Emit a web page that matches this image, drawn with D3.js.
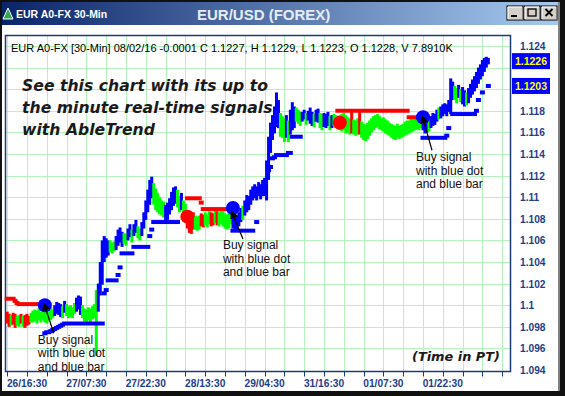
<!DOCTYPE html>
<html><head><meta charset="utf-8">
<script src="https://cdn.jsdelivr.net/npm/d3@7"></script>
<style>body{margin:0;background:#fff;overflow:hidden}svg{display:block}</style>
</head><body><svg id="c" width="565" height="396"></svg>
<script>
// ---------------- DATA ----------------
const xTickLabels = ["26/16:30","27/07:30","27/22:30","28/13:30","29/04:30","31/16:30","01/07:30","01/22:30"];
const xLabelBars  = [10,40,70,100,130,160,190,220];
const yTicks      = [1.124,1.122,1.12,1.118,1.116,1.114,1.112,1.11,1.108,1.106,1.104,1.102,1.1,1.098,1.096,1.094];
const yTickLabels = ["1.124","1.122","1.12","1.118","1.116","1.114","1.112","1.11","1.108","1.106","1.104","1.102","1.1","1.098","1.096","1.094"];
const priceMarkers = [1.1226, 1.1203];

const barHigh = [
1.0994,1.0992,1.0991,1.0993,1.0992,1.0990,1.0991,1.0992,1.0990,1.0991,1.0992,1.0990,1.0993,1.0995,1.0996,1.0995,1.0997,1.0994,1.0996,
1.0997,1.0996,1.0998,1.0998,1.0996,1.1000,1.1003,1.1002,1.1001,1.0999,1.1004,1.1001,1.0999,1.1000,1.0998,1.1002,1.1007,1.1009,1.1008,1.1000,1.0997,1.0996,1.0998,1.0997,1.0999,1.1001,1.1014,
1.1020,1.1040,1.1060,1.1064,1.1062,1.1060,1.1060,1.1058,1.1059,1.1064,
1.1070,1.1072,1.1068,1.1067,1.1066,1.1071,1.1075,1.1070,1.1075,1.1079,
1.1073,1.1071,1.1077,1.1086,1.1097,1.1107,1.1116,1.1119,1.1113,1.1108,
1.1104,1.1100,1.1097,1.1096,1.1093,1.1095,1.1099,1.1105,1.1109,1.1110,
1.1107,1.1101,1.1104,1.1097,1.1094,
1.1088,1.1086,1.1084,1.1086,1.1083,1.1082,1.1083,1.1085,1.1084,1.1086,1.1084,1.1087,1.1086,1.1085,1.1088,1.1087,1.1086,1.1089,1.1087,1.1085,1.1084,1.1086,1.1088,
1.1086,1.1084,1.1083,1.1086,1.1090,1.1092,1.1097,1.1102,1.1101,1.1107,
1.1110,1.1112,1.1110,1.1114,1.1112,1.1116,1.1118,1.1134,1.1156,1.1169,
1.1176,1.1184,1.1197,1.1190,1.1178,1.1175,1.1173,1.1176,1.1171,1.1181,
1.1188,1.1184,1.1183,1.1181,1.1179,1.1179,1.1181,1.1178,1.1180,1.1183,
1.1179,1.1177,1.1181,1.1182,1.1178,1.1177,1.1178,1.1177,1.1179,1.1175,
1.1176,1.1177,1.1176,
1.1175,1.1176,1.1177,1.1178,1.1176,1.1174,1.1173,1.1179,1.1172,1.1171,
1.1173,1.1179,1.1170,1.1168,1.1167,1.1169,1.1171,1.1173,1.1175,1.1176,
1.1177,1.1175,1.1173,1.1174,1.1172,1.1171,1.1169,1.1168,1.1167,1.1166,
1.1168,1.1166,1.1167,1.1168,1.1170,1.1171,1.1171,1.1173,1.1172,1.1174,
1.1175,1.1173,1.1174,
1.1173,1.1170,1.1171,1.1173,1.1175,1.1178,1.1177,1.1181,1.1183,1.1184,
1.1186,1.1187,1.1186,1.1190,1.1210,1.1207,1.1203,1.1201,1.1204,1.1200,
1.1202,1.1199,1.1197,1.1201,1.1205,1.1209,1.1212,1.1216,1.1220,1.1223,
1.1227,1.1229,1.1230,1.1229];

const barLow = [
1.0983,1.0980,1.0981,1.0982,1.0979,1.0981,1.0980,1.0983,1.0980,1.0979,1.0981,1.0982,1.0984,1.0984,1.0985,1.0983,1.0986,1.0984,1.0986,
1.0984,1.0983,1.0985,1.0986,1.0988,1.0990,1.0992,1.0991,1.0989,1.0988,1.0993,1.0990,1.0988,1.0989,1.0988,1.0992,1.0994,1.0996,1.0991,1.0988,1.0985,1.0983,1.0986,1.0984,1.0987,1.0988,1.0953,
1.0994,1.1009,1.1019,1.1040,1.1044,1.1046,1.1049,1.1048,1.1050,1.1051,
1.1055,1.1058,1.1054,1.1057,1.1055,1.1060,1.1063,1.1058,1.1064,1.1067,
1.1062,1.1060,1.1064,1.1071,1.1079,1.1086,1.1093,1.1099,1.1093,1.1088,
1.1086,1.1084,1.1083,1.1081,1.1077,1.1079,1.1084,1.1088,1.1092,1.1094,
1.1091,1.1086,1.1088,1.1084,1.1082,
1.1071,1.1067,1.1066,1.1070,1.1070,1.1069,1.1070,1.1073,1.1072,1.1074,1.1072,1.1075,1.1073,1.1074,1.1076,1.1074,1.1073,1.1075,1.1073,1.1071,1.1070,1.1071,1.1075,
1.1071,1.1070,1.1068,1.1073,1.1077,1.1079,1.1083,1.1086,1.1088,1.1093,
1.1097,1.1099,1.1097,1.1101,1.1098,1.1101,1.1101,1.1097,1.1116,1.1141,
1.1153,1.1159,1.1165,1.1164,1.1156,1.1155,1.1151,1.1155,1.1151,1.1158,
1.1162,1.1164,1.1170,1.1168,1.1166,1.1170,1.1172,1.1167,1.1171,1.1168,
1.1166,1.1165,1.1170,1.1169,1.1164,1.1162,1.1165,1.1164,1.1166,1.1162,
1.1164,1.1166,1.1164,
1.1164,1.1162,1.1161,1.1162,1.1159,1.1160,1.1158,1.1159,1.1158,1.1157,
1.1158,1.1158,1.1155,1.1153,1.1152,1.1154,1.1157,1.1160,1.1162,1.1164,
1.1165,1.1163,1.1162,1.1161,1.1159,1.1158,1.1157,1.1155,1.1154,1.1153,
1.1155,1.1154,1.1155,1.1156,1.1157,1.1158,1.1159,1.1160,1.1161,1.1162,
1.1163,1.1162,1.1164,
1.1162,1.1159,1.1160,1.1161,1.1164,1.1166,1.1167,1.1170,1.1172,1.1173,
1.1175,1.1177,1.1175,1.1179,1.1177,1.1190,1.1190,1.1187,1.1192,1.1188,
1.1186,1.1184,1.1185,1.1187,1.1192,1.1195,1.1198,1.1201,1.1205,1.1209,
1.1212,1.1216,1.1220,1.1223];

// trend state per bar: r = down (red), g = neutral (green), b = up (blue)
const barTrend = ("rrgrrggrgrrrggggggg" + "gggggbbbbgbgggggbbbgggggggg" +
  "bbbbbbgggbbbbggbbgbbggbbbbbbggggggbbbbbbggbgg" + "rrrrgggrrgggrrgrggggggg" +
  "bbbbbgbbbbbbbbbbbbbbbbbbgggbgbbbgggbbgbbbgbbggbbbgbgg" +
  "gggggggrgggrggggggggggggggggggggggggggggggg" + "bbbgbbbbgbbbbbbbggbgbbgbbbbbbbbbbb").split("");

// stop levels held over bar ranges: [firstBar, lastBar, level]
const supportStops = [
 [19,19,1.0974],[20,21,1.0975],[22,22,1.0976],[23,23,1.0977],[24,24,1.0978],[25,25,1.0979],
 [26,26,1.0980],[27,27,1.0981],[28,28,1.0982],[29,48,1.0983],
 [49,49,1.1011],[50,50,1.1014],[51,55,1.1023],[56,56,1.1028],[57,57,1.1035],[58,63,1.1048],
 [64,71,1.1054],[72,72,1.1064],[73,73,1.1070],[74,86,1.1077],
 [114,124,1.1069],[126,126,1.1077],
 [132,132,1.1125],[133,133,1.1128],[134,134,1.1136],[135,135,1.1137],[136,141,1.1139],
 [142,143,1.1141],[144,148,1.1156],
 [210,221,1.1155],[222,222,1.1157],[223,223,1.1164],[225,236,1.1177],[237,237,1.1180],
 [238,238,1.1190],[240,240,1.1197],[243,243,1.1203]];
const resistStops = [
 [0,3,1.1006],[4,4,1.1004],[5,5,1.1002],[6,18,1.1001],
 [91,97,1.1099],[98,98,1.1095],[99,112,1.1089],
 [167,202,1.1180],[203,209,1.1174]];

// signals: bar, price, type
const signalBars   = [19, 91, 114, 168, 210];
const signalPrices = [1.1000, 1.1082, 1.1090, 1.1169, 1.1174];
const signalTypes  = ["buy","sell","buy","sell","buy"];

const headerText = "EUR A0-FX [30-Min] 08/02/16  -0.0001 C 1.1227, H 1.1229, L 1.1223, O 1.1228, V 7.8910K";
const promoLines = ["See this chart with its up to","the minute real-time signals","with AbleTrend"];
const noteLines  = ["Buy signal","with blue dot","and blue bar"];

// ---------------- DRAW ----------------
const svg = d3.select("#c");
const W = 565, H = 396;
const box = {l:5.5, t:35.5, r:510.5, b:371.5};
const x = d3.scaleLinear().domain([0,250]).range([7.2, 502.2]);
const y = d3.scaleLinear().domain([1.094,1.124]).range([370,46]);
const trendColor = {r:"#ff0000", g:"#00ff00", b:"#0000ff"};

// window frame
svg.append("rect").attr("width",W).attr("height",H).attr("fill","#111");
svg.append("rect").attr("x",2).attr("y",2).attr("width",556).attr("height",389).attr("fill","#fff");
svg.append("rect").attr("x",558).attr("y",2).attr("width",2).attr("height",389).attr("fill","#808080");

// title bar
const defs = svg.append("defs");
const gr = defs.append("linearGradient").attr("id","tb");
gr.append("stop").attr("offset","0%").attr("stop-color","#0a246a");
gr.append("stop").attr("offset","100%").attr("stop-color","#a6caf0");
svg.append("rect").attr("x",2).attr("y",2).attr("width",556).attr("height",23).attr("fill","url(#tb)");
svg.append("path").attr("d","M3,19 L8,8 L13,19 Z").attr("fill","#2fa84f").attr("stroke","#fff").attr("stroke-width",1);
svg.append("text").attr("x",16).attr("y",18).text("EUR A0-FX 30-Min")
  .attr("font-family","Liberation Sans, Arial").attr("font-weight","bold").attr("font-size",10.5).attr("fill","#fff");
svg.append("text").attr("x",197).attr("y",20).text("EUR/USD (FOREX)")
  .attr("font-family","Liberation Sans, Arial").attr("font-weight","bold").attr("font-size",15).attr("fill","#e6ecf6");
const btnX = [507, 524, 541];
btnX.forEach((bx,k)=>{
  const g = svg.append("g");
  g.append("rect").attr("x",bx).attr("y",6).attr("width",16).attr("height",14).attr("fill","#d4d0c8").attr("stroke","#000").attr("stroke-width",1);
  g.append("path").attr("d",`M${bx+1},${19} V${7} H${bx+15}`).attr("fill","none").attr("stroke","#fff");
  g.append("path").attr("d",`M${bx+1.5},${19.5} H${bx+15.5} V${7}`).attr("fill","none").attr("stroke","#808080");
  if(k===0) g.append("rect").attr("x",bx+4).attr("y",15).attr("width",6).attr("height",2).attr("fill","#000");
  if(k===1) g.append("rect").attr("x",bx+4).attr("y",9).attr("width",8).attr("height",7).attr("fill","none").attr("stroke","#000").attr("stroke-width",1.3);
  if(k===2) g.append("path").attr("d",`M${bx+4.5},9 L${bx+11.5},16 M${bx+11.5},9 L${bx+4.5},16`).attr("stroke","#000").attr("stroke-width",1.8);
});

// grid
const grid = svg.append("g").attr("stroke","#b6f2bc").attr("stroke-width",1);
yTicks.filter(v=>v>1.0945).forEach(v=>{
  grid.append("line").attr("x1",box.l).attr("x2",box.r).attr("y1",Math.round(y(v))+0.5).attr("y2",Math.round(y(v))+0.5);
});
const xTickBars = d3.range(0,251,10);
xTickBars.forEach(b=>{
  grid.append("line").attr("x1",Math.round(x(b))+0.5).attr("x2",Math.round(x(b))+0.5).attr("y1",box.t).attr("y2",box.b);
});

svg.append("rect").attr("x",box.l).attr("y",box.t).attr("width",box.r-box.l).attr("height",box.b-box.t)
  .attr("fill","none").attr("stroke","#1b3a7c").attr("stroke-width",1.5);

const tk = svg.append("g").attr("stroke","#1b3a7c").attr("stroke-width",1);
xTickBars.forEach(b=>{
  tk.append("line").attr("x1",Math.round(x(b))+0.5).attr("x2",Math.round(x(b))+0.5).attr("y1",box.b).attr("y2",box.b+5);
});
svg.append("g").selectAll("text").data(xTickLabels).join("text")
  .attr("x",(d,i)=>x(xLabelBars[i])).attr("y",387).attr("text-anchor","middle")
  .attr("font-family","Liberation Sans, Arial").attr("font-weight","bold").attr("font-size",10.2).attr("fill","#1e3d8c")
  .text(d=>d);

// y labels (those hidden behind the price markers are not drawn)
const visibleY = yTicks.map((v,i)=>({v, label:yTickLabels[i]}))
  .filter(t=>priceMarkers.every(m=>Math.abs(y(m)-y(t.v))>12));
svg.append("g").selectAll("text").data(visibleY).join("text")
  .attr("x",520).attr("y",d=>y(d.v)+4).attr("font-family","Liberation Sans, Arial").attr("font-weight","bold")
  .attr("font-size",10.2).attr("fill","#1e3d8c").text(d=>d.label);
priceMarkers.forEach(v=>{
  svg.append("rect").attr("x",512).attr("y",y(v)-8).attr("width",38).attr("height",16).attr("fill","#0000ff");
  svg.append("text").attr("x",531).attr("y",y(v)+4).attr("text-anchor","middle")
    .attr("font-family","Liberation Sans, Arial").attr("font-weight","bold").attr("font-size",10.5).attr("fill","#ffff00")
    .text(d3.format(".4f")(v));
});

svg.append("text").attr("x",11).attr("y",52).text(headerText)
  .attr("font-family","Liberation Sans, Arial").attr("font-size",11).attr("fill","#000");

// promo text: bold italic, size fitted to the reference's line width (capped), rest by letter spacing
const promoFont = "'DejaVu Sans', 'Open Sans', sans-serif";
function fitText(sel, base, target, cap, nChars){
  const w = sel.node().getComputedTextLength();
  const fs = Math.min(cap, base*target/w);
  sel.attr("font-size", fs);
  const w2 = sel.node().getComputedTextLength();
  if (target > w2) sel.attr("letter-spacing", ((target-w2)/(nChars-1)).toFixed(2));
}
const promo = svg.append("g").selectAll("text").data(promoLines).join("text")
  .attr("x",22).attr("y",(d,i)=>91+i*22).text(d=>d)
  .attr("font-family",promoFont).attr("font-style","italic").attr("font-weight","bold")
  .attr("font-size",15).attr("fill","#1a1a1a");
fitText(promo, 15, 246, 16.3, promoLines[0].length);
const tpt = svg.append("text").attr("x",412).attr("y",361).text("(Time in PT)")
  .attr("font-family",promoFont).attr("font-style","italic").attr("font-weight","bold")
  .attr("font-size",14.5).attr("fill","#1a1a1a");
fitText(tpt, 14.5, 88, 15.5, 12);

// bars
const idx = d3.range(barHigh.length);
svg.append("g").selectAll("rect").data(idx).join("rect")
  .attr("x",i=>x(i)-1.5).attr("width",3)
  .attr("y",i=>y(barHigh[i])).attr("height",i=>Math.max(1.5, y(barLow[i])-y(barHigh[i])))
  .attr("fill",i=>trendColor[barTrend[i]]);

function drawStops(list, color){
  svg.append("g").selectAll("line").data(list).join("line")
    .attr("x1",d=>x(d[0])-2.5).attr("x2",d=>x(d[1])+2.5)
    .attr("y1",d=>y(d[2])).attr("y2",d=>y(d[2]))
    .attr("stroke",color).attr("stroke-width",4);
}
drawStops(resistStops,"#ff0000");
drawStops(supportStops,"#0000ff");

svg.append("g").selectAll("circle").data(signalBars).join("circle")
  .attr("cx",(d)=>x(d)).attr("cy",(d,i)=>y(signalPrices[i])).attr("r",7)
  .attr("fill",(d,i)=>signalTypes[i]==="buy"?"#0000ff":"#ff0000");

defs.append("marker").attr("id","ah").attr("viewBox","0 0 10 10").attr("refX",1).attr("refY",5)
  .attr("markerWidth",7).attr("markerHeight",7).attr("orient","auto-start-reverse")
  .append("path").attr("d","M0,0 L10,5 L0,10 Z").attr("fill","#000");
const notes = [
  {sig:0, tx:-7, ty:38.5, a0:[1,4], a1:[9,28]},
  {sig:2, tx:-10, ty:41, a0:[1,9], a1:[10,31]},
  {sig:4, tx:-7, ty:44, a0:[1,5], a1:[9,33]}];
notes.forEach(n=>{
  const cx = x(signalBars[n.sig]), cy = y(signalPrices[n.sig]);
  svg.append("line").attr("x1",cx+n.a1[0]).attr("y1",cy+n.a1[1]).attr("x2",cx+n.a0[0]).attr("y2",cy+n.a0[1])
    .attr("stroke","#000").attr("stroke-width",1.2).attr("marker-end","url(#ah)");
  svg.append("g").selectAll("text").data(noteLines).join("text")
    .attr("x",cx+n.tx).attr("y",(d,i)=>cy+n.ty+i*13.5).text(d=>d)
    .attr("font-family","Liberation Sans, Arial").attr("font-size",12).attr("fill","#111");
});
</script></body></html>
